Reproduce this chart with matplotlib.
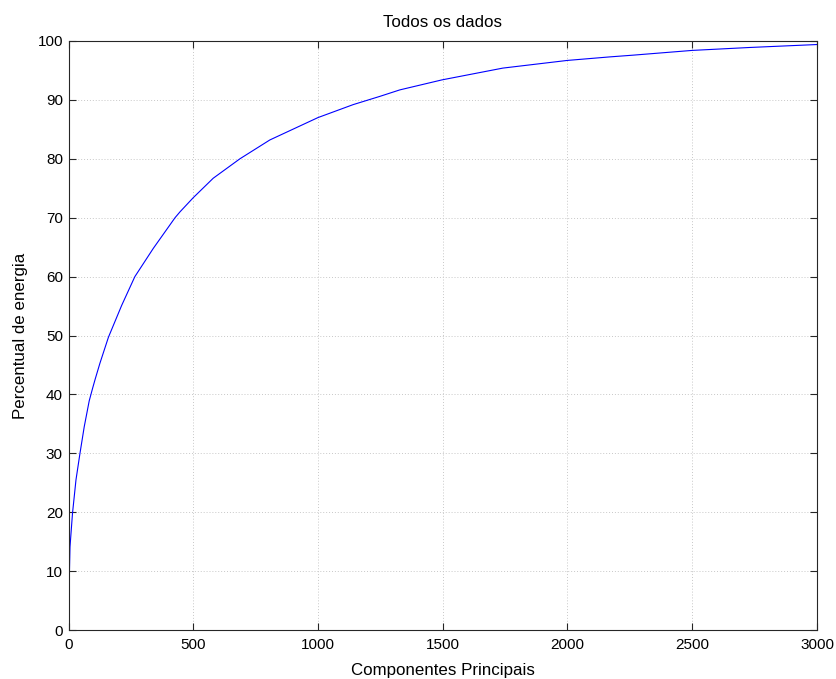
import matplotlib
matplotlib.use("Agg")
import matplotlib.pyplot as plt

# Data
components = [0, 3, 6, 16, 30, 46, 63, 83, 97, 107, 126, 160, 213, 266, 340,
              427, 447, 500, 580, 687, 807, 1000, 1141, 1248, 1328, 1497,
              1741, 1999, 2169, 2264, 2499, 2730, 3000]
energy = [2.5, 8.5, 14.1, 19.8, 25.5, 30.0, 34.5, 38.9, 41.1, 42.6, 45.3,
          49.7, 55.1, 60.0, 64.8, 70.0, 71.0, 73.4, 76.7, 80.0, 83.2, 87.0,
          89.2, 90.6, 91.7, 93.4, 95.4, 96.7, 97.3, 97.6, 98.4, 98.9, 99.4]

x_ticks = [0, 500, 1000, 1500, 2000, 2500, 3000]
y_ticks = [0, 10, 20, 30, 40, 50, 60, 70, 80, 90, 100]

title = "Todos os dados"
x_label = "Componentes Principais"
y_label = "Percentual de energia"

plt.rcParams['font.family'] = ['Liberation Sans', 'DejaVu Sans']

fig = plt.figure(figsize=(8.37, 6.79), dpi=100)
ax = fig.add_axes([68.5/837, 49/679, (817-68.5)/837, (630-41)/679])

ax.plot(components, energy, color=(0, 0, 1), linewidth=0.8)

ax.set_xlim(0, 3000)
ax.set_ylim(0, 100)
ax.set_xticks(x_ticks)
ax.set_yticks(y_ticks)
ax.grid(True, linestyle=(0, (1, 2)), color='#c8c8c8', linewidth=0.7)
ax.tick_params(direction='in', length=5, width=0.8, top=True, right=True,
               labelsize=11, colors='#262626')
ax.tick_params(axis='x', pad=6)
ax.tick_params(axis='y', pad=4)
for tl in ax.get_xticklabels() + ax.get_yticklabels():
    tl.set_color('black')
for s in ax.spines.values():
    s.set_color('#262626')
    s.set_linewidth(0.8)

ax.set_title(title, fontsize=12.2, pad=10)
ax.set_xlabel(x_label, fontsize=12.2, labelpad=8)
ax.set_ylabel(y_label, fontsize=12.2, labelpad=7)

fig.savefig("out.png", dpi=100, facecolor='white')
